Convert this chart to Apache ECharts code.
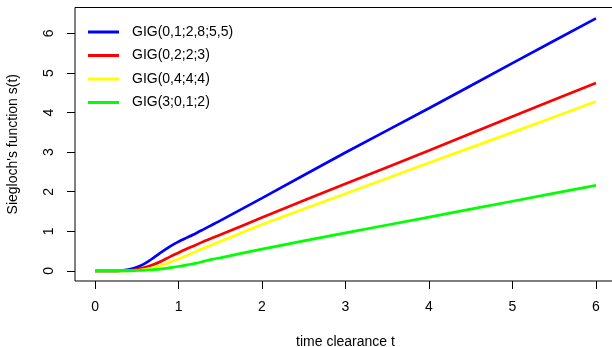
<!DOCTYPE html>
<html>
<head>
<meta charset="utf-8">
<script src="https://cdn.jsdelivr.net/npm/echarts@6/dist/echarts.min.js"></script>
<style>
  html, body { margin: 0; padding: 0; background: #fff; }
  #chart { width: 612px; height: 347px; }
</style>
</head>
<body>
<div id="chart"></div>
<script>
// time clearance t (shared by every curve)
const tValues = [0, 0.2, 0.3, 0.4, 0.5, 0.6, 0.7, 0.8, 0.9, 1.0, 1.1, 1.2, 1.3, 1.4, 1.5, 2, 3, 4, 5, 6];

// Siegloch's function s(t)
const gig0128 = [0, 0, 0.005, 0.03, 0.09, 0.19, 0.33, 0.48, 0.62, 0.74, 0.84, 0.94, 1.05, 1.16, 1.27, 1.84, 2.99, 4.11, 5.25, 6.38];
const gig0223 = [0, 0, 0, 0.01, 0.04, 0.09, 0.16, 0.25, 0.36, 0.46, 0.56, 0.65, 0.74, 0.83, 0.91, 1.35, 2.20, 3.04, 3.90, 4.75];
const gig0444 = [0, 0, 0, 0, 0.01, 0.04, 0.08, 0.14, 0.22, 0.30, 0.39, 0.48, 0.57, 0.66, 0.74, 1.17, 1.95, 2.73, 3.50, 4.28];
const gig3012 = [0, 0, 0, 0, 0.01, 0.02, 0.03, 0.05, 0.08, 0.11, 0.15, 0.19, 0.24, 0.29, 0.33, 0.55, 0.96, 1.36, 1.76, 2.16];

const seriesNames = ['GIG(0,1;2,8;5,5)', 'GIG(0,2;2;3)', 'GIG(0,4;4;4)', 'GIG(3;0,1;2)'];
const seriesValues = [gig0128, gig0223, gig0444, gig3012];
const seriesColors = ['#0000ff', '#ff0000', '#ffff00', '#00ff00'];

const xTicks = [0, 1, 2, 3, 4, 5, 6];
const yTicks = [0, 1, 2, 3, 4, 5, 6];

const font = 'Liberation Sans, Arial, sans-serif';

const chart = echarts.init(document.getElementById('chart'), null, { renderer: 'canvas' });

const option = {
    animation: false,
    backgroundColor: '#ffffff',
    grid: {
        left: 75,
        right: -4,
        top: 7.5,
        bottom: 66,
        outerBoundsMode: 'none',
        containLabel: false,
        show: true,
        borderColor: '#000',
        borderWidth: 1,
        backgroundColor: 'transparent'
    },
    legend: {
        orient: 'vertical',
        left: 88,
        top: 24.5,
        padding: 0,
        itemWidth: 31,
        itemHeight: 3,
        itemGap: 8.5,
        icon: 'rect',
        textStyle: {
            fontFamily: font,
            fontSize: 14,
            color: '#000',
            lineHeight: 15,
            padding: [0, 0, 0, 8]
        },
        data: seriesNames
    },
    xAxis: {
        type: 'value',
        min: -0.24,
        max: 6.24,
        name: 'time clearance t',
        nameLocation: 'middle',
        nameGap: 54,
        nameTextStyle: { fontFamily: font, fontSize: 14, color: '#000' },
        axisLine: { show: false, onZero: false },
        splitLine: { show: false },
        axisTick: {
            show: true,
            inside: false,
            length: 8,
            customValues: xTicks,
            lineStyle: { color: '#000' }
        },
        axisLabel: {
            customValues: xTicks,
            margin: 19,
            fontFamily: font,
            fontSize: 14,
            color: '#000'
        }
    },
    yAxis: {
        type: 'value',
        min: -0.256,
        max: 6.656,
        name: "Siegloch's function s(t)",
        nameLocation: 'middle',
        nameGap: 55,
        nameRotate: 90,
        nameTextStyle: { fontFamily: font, fontSize: 14, color: '#000' },
        axisLine: { show: false, onZero: false },
        splitLine: { show: false },
        axisTick: {
            show: true,
            inside: false,
            length: 8,
            customValues: yTicks,
            lineStyle: { color: '#000' }
        },
        axisLabel: {
            customValues: yTicks,
            rotate: 90,
            margin: 19,
            fontFamily: font,
            fontSize: 14,
            color: '#000'
        }
    },
    series: seriesNames.map((name, i) => ({
        name: name,
        type: 'line',
        data: tValues.map((t, j) => [t, seriesValues[i][j]]),
        showSymbol: false,
        smooth: 0.25,
        lineStyle: { color: seriesColors[i], width: 2.7 },
        itemStyle: { color: seriesColors[i] }
    }))
};

chart.setOption(option);
</script>
</body>
</html>
